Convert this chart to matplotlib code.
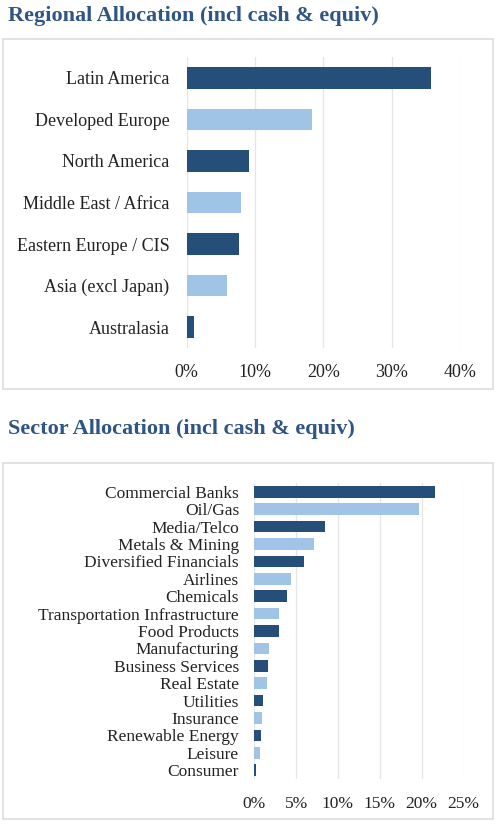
import matplotlib
matplotlib.use("Agg")
import matplotlib.pyplot as plt
from matplotlib.patches import Rectangle
from matplotlib.ticker import FuncFormatter

# regional allocation, % of fund
regions = ["Latin America", "Developed Europe", "North America", "Middle East / Africa",
           "Eastern Europe / CIS", "Asia (excl Japan)", "Australasia"]
region_pct = [35.8, 18.3, 9.1, 7.9, 7.7, 5.9, 1.0]
region_ticks = [0, 10, 20, 30, 40]

# sector allocation, % of fund
sectors = ["Commercial Banks", "Oil/Gas", "Media/Telco", "Metals & Mining",
           "Diversified Financials", "Airlines", "Chemicals",
           "Transportation Infrastructure", "Food Products", "Manufacturing",
           "Business Services", "Real Estate", "Utilities", "Insurance",
           "Renewable Energy", "Leisure", "Consumer"]
sector_pct = [21.6, 19.7, 8.5, 7.2, 5.9, 4.4, 3.95, 3.0, 2.9, 1.76, 1.64, 1.52,
              1.0, 0.98, 0.76, 0.64, 0.16]
sector_ticks = [0, 5, 10, 15, 20, 25]

dark = "#254e78"
light = "#a0c4e6"
title_col = "#2e5584"
serif = ["Liberation Serif", "DejaVu Serif"]

W, H = 498, 827
fig = plt.figure(figsize=(W / 100, H / 100), dpi=100)


def px_axes(x0, x1, y0, y1):
    # pixel box (top-left origin) -> figure axes
    return fig.add_axes([x0 / W, 1 - y1 / H, (x1 - x0) / W, (y1 - y0) / H])


def border(x0, x1, y0, y1):
    fig.patches.append(Rectangle((x0 / W, 1 - y1 / H), (x1 - x0) / W, (y1 - y0) / H,
                                 transform=fig.transFigure, fill=False,
                                 edgecolor="#dddddd", linewidth=1.2))


def hbars(ax, labels, vals, ticks, height, lab_size, lab_pad, tick_pad):
    cols = [dark if i % 2 == 0 else light for i in range(len(vals))]
    ax.barh(range(len(vals)), vals, height=height, color=cols, zorder=3)
    ax.set_ylim(len(vals) - 0.5, -0.5)
    ax.set_xlim(ticks[0], ticks[-1])
    ax.set_xticks(ticks)
    ax.xaxis.set_major_formatter(FuncFormatter(lambda v, p: "%d%%" % v))
    ax.set_yticks(range(len(vals)))
    ax.set_yticklabels(labels, fontsize=lab_size, family=serif, color="#222222")
    for t in ax.get_xticklabels():
        t.set_family(serif)
        t.set_fontsize(lab_size)
        t.set_color("#222222")
    ax.tick_params(axis="y", length=0, pad=lab_pad)
    ax.tick_params(axis="x", length=0, pad=tick_pad)
    ax.grid(axis="x", color="#e6e6e6", linewidth=0.9, zorder=0)
    for s in ax.spines.values():
        s.set_visible(False)


fig.text(8 / W, 1 - 16.5 / H, "Regional Allocation (incl cash & equiv)", fontsize=16,
         fontweight="bold", family=serif, color=title_col, va="center", ha="left")
border(3, 493, 39, 389)
ax1 = px_axes(186.7, 460, 57, 348)
hbars(ax1, regions, region_pct, region_ticks, 0.52, 13, 12.5, 11.5)

fig.text(8 / W, 1 - 429.5 / H, "Sector Allocation (incl cash & equiv)", fontsize=16,
         fontweight="bold", family=serif, color=title_col, va="center", ha="left")
border(3, 493, 463, 819)
ax2 = px_axes(254.3, 463.3, 483, 779)
hbars(ax2, sectors, sector_pct, sector_ticks, 0.67, 12.5, 11, 12.5)

fig.savefig("out.png", dpi=100)
